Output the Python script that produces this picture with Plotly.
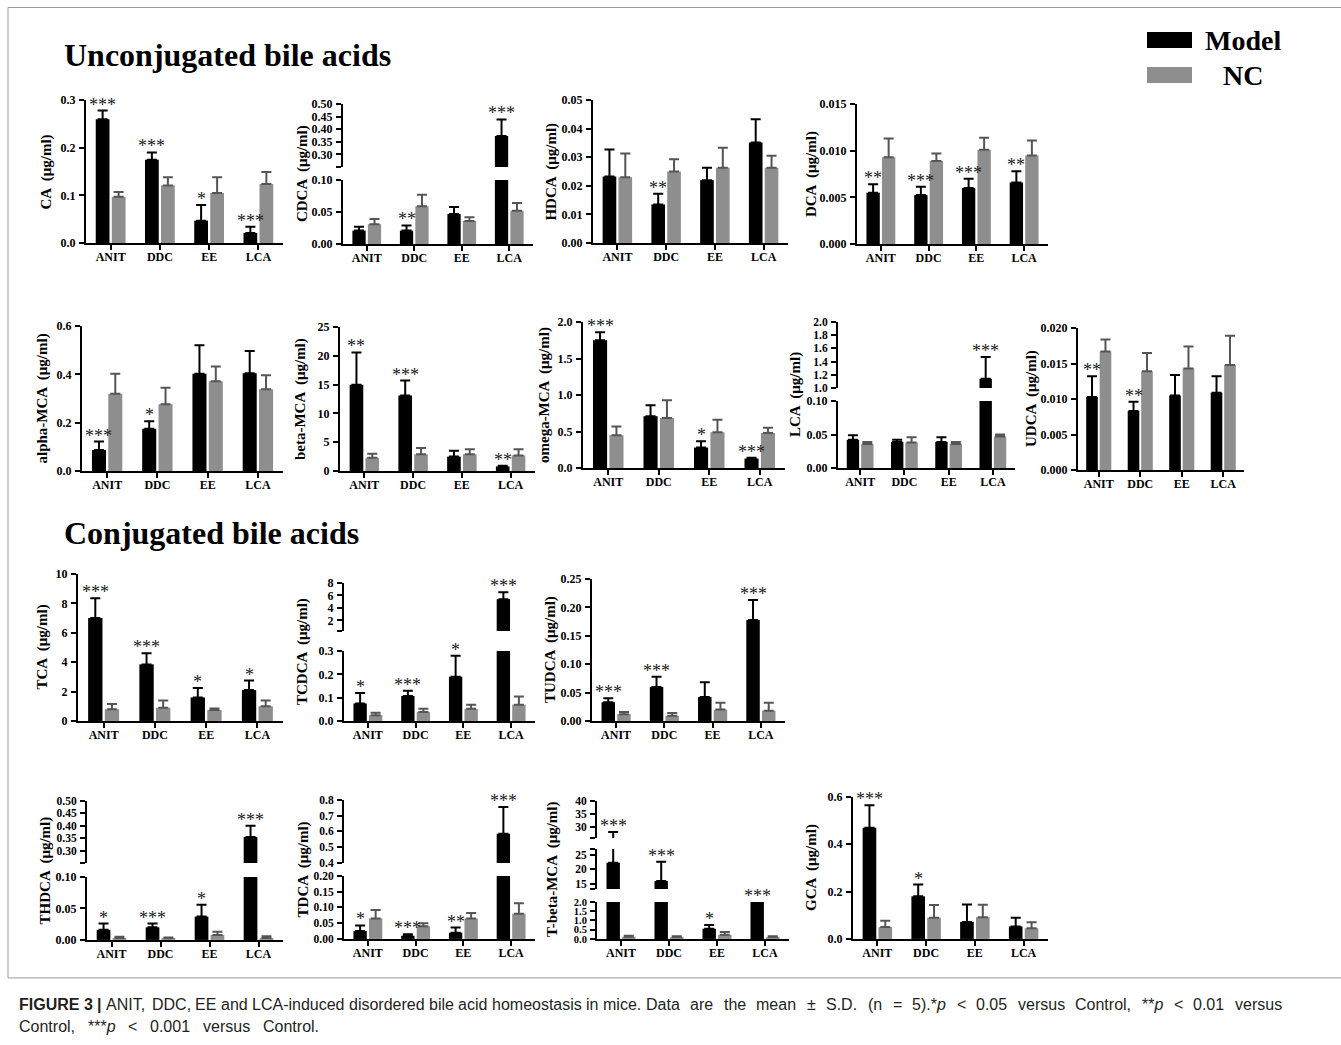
import plotly.graph_objects as go

W, H = 1341, 1045

categories = ["ANIT", "DDC", "EE", "LCA"]

# ---------------- data (mean and SD) ----------------
CA_model = [0.260, 0.175, 0.047, 0.021]
CA_model_sd = [0.018, 0.015, 0.033, 0.013]
CA_nc = [0.097, 0.121, 0.105, 0.124]
CA_nc_sd = [0.010, 0.017, 0.033, 0.025]
CA_stars = ["***", "***", "*", "***"]

CDCA_model = [0.021, 0.021, 0.047, 0.373]
CDCA_model_sd = [0.006, 0.008, 0.011, 0.066]
CDCA_nc = [0.031, 0.059, 0.036, 0.052]
CDCA_nc_sd = [0.008, 0.018, 0.006, 0.012]
CDCA_stars = ["", "**", "", "***"]

HDCA_model = [0.0233, 0.0135, 0.0220, 0.0352]
HDCA_model_sd = [0.0094, 0.0037, 0.0043, 0.0081]
HDCA_nc = [0.0230, 0.0250, 0.0263, 0.0263]
HDCA_nc_sd = [0.0083, 0.0043, 0.0070, 0.0042]
HDCA_stars = ["", "**", "", ""]

DCA_model = [0.0055, 0.00525, 0.0060, 0.0066]
DCA_model_sd = [0.0009, 0.0009, 0.0010, 0.0012]
DCA_nc = [0.0093, 0.0089, 0.0101, 0.0095]
DCA_nc_sd = [0.0020, 0.0008, 0.0013, 0.0016]
DCA_stars = ["**", "***", "***", "**"]

aMCA_model = [0.087, 0.175, 0.403, 0.405]
aMCA_model_sd = [0.035, 0.031, 0.117, 0.092]
aMCA_nc = [0.320, 0.276, 0.371, 0.338]
aMCA_nc_sd = [0.083, 0.069, 0.062, 0.058]
aMCA_stars = ["***", "*", "", ""]

bMCA_model = [15.0, 13.1, 2.5, 0.8]
bMCA_model_sd = [5.6, 2.6, 1.0, 0.1]
bMCA_nc = [2.3, 2.9, 2.9, 2.7]
bMCA_nc_sd = [0.7, 1.1, 0.9, 1.1]
bMCA_stars = ["**", "***", "", "**"]

oMCA_model = [1.75, 0.71, 0.28, 0.13]
oMCA_model_sd = [0.11, 0.15, 0.085, 0.01]
oMCA_nc = [0.45, 0.685, 0.49, 0.48]
oMCA_nc_sd = [0.12, 0.245, 0.17, 0.07]
oMCA_stars = ["***", "", "*", "***"]

LCA_model = [0.042, 0.039, 0.039, 1.14]
LCA_model_sd = [0.007, 0.003, 0.007, 0.33]
LCA_nc = [0.036, 0.038, 0.036, 0.047]
LCA_nc_sd = [0.003, 0.008, 0.003, 0.003]
LCA_stars = ["", "", "", "***"]

UDCA_model = [0.0103, 0.0083, 0.0105, 0.0109]
UDCA_model_sd = [0.0029, 0.0013, 0.0029, 0.0023]
UDCA_nc = [0.0167, 0.0139, 0.0143, 0.0148]
UDCA_nc_sd = [0.0017, 0.0026, 0.0031, 0.0041]
UDCA_stars = ["**", "**", "", ""]

TCA_model = [7.0, 3.85, 1.6, 2.1]
TCA_model_sd = [1.35, 0.75, 0.65, 0.65]
TCA_nc = [0.8, 0.9, 0.75, 1.0]
TCA_nc_sd = [0.35, 0.5, 0.1, 0.4]
TCA_stars = ["***", "***", "*", "*"]

TCDCA_model = [0.075, 0.107, 0.19, 5.4]
TCDCA_model_sd = [0.045, 0.023, 0.09, 1.1]
TCDCA_nc = [0.025, 0.038, 0.052, 0.07]
TCDCA_nc_sd = [0.010, 0.014, 0.018, 0.035]
TCDCA_stars = ["*", "***", "*", "***"]

TUDCA_model = [0.033, 0.060, 0.042, 0.178]
TUDCA_model_sd = [0.007, 0.018, 0.026, 0.035]
TUDCA_nc = [0.012, 0.009, 0.020, 0.018]
TUDCA_nc_sd = [0.004, 0.005, 0.012, 0.014]
TUDCA_stars = ["***", "***", "", "***"]

THDCA_model = [0.016, 0.020, 0.037, 0.355]
THDCA_model_sd = [0.010, 0.006, 0.019, 0.045]
THDCA_nc = [0.003, 0.003, 0.008, 0.003]
THDCA_nc_sd = [0.002, 0.001, 0.005, 0.003]
THDCA_stars = ["*", "***", "*", "***"]

TDCA_model = [0.025, 0.010, 0.020, 0.585]
TDCA_model_sd = [0.018, 0.005, 0.016, 0.170]
TDCA_nc = [0.065, 0.040, 0.065, 0.080]
TDCA_nc_sd = [0.027, 0.010, 0.017, 0.033]
TDCA_stars = ["*", "***", "**", "***"]

TbMCA_model = [22.3, 16.0, 0.55, 6.0]
TbMCA_model_sd = [5.7, 6.6, 0.20, 1.5]
TbMCA_nc = [0.12, 0.10, 0.22, 0.10]
TbMCA_nc_sd = [0.05, 0.05, 0.16, 0.05]
TbMCA_stars = ["***", "***", "*", "***"]

GCA_model = [0.470, 0.180, 0.072, 0.053]
GCA_model_sd = [0.095, 0.050, 0.073, 0.037]
GCA_nc = [0.050, 0.090, 0.092, 0.045]
GCA_nc_sd = [0.027, 0.053, 0.052, 0.025]
GCA_stars = ["***", "*", "", ""]

series_names = ["Model", "NC"]

caption_bold = "FIGURE 3 |"
caption_part1 = "ANIT, DDC, EE and LCA-induced disordered bile acid homeostasis in mice."
caption_part2 = "Data are the mean ± S.D. (n = 5).*p < 0.05 versus Control, **p < 0.01 versus"
caption_line2 = "Control, ***p < 0.001 versus Control."


# ---------------- geometry helpers ----------------
def Y(y):
    """vertical pixel position (reference picture) -> page pixel"""
    return 1.0134 * y - 7


# segment: (top_px, bottom_px, lo, hi, first_labelled_tick, dtick, decimals, tickfont size), bottom first
panels = [
    dict(t="CA", m=CA_model, ms=CA_model_sd, n=CA_nc, ns=CA_nc_sd, s=CA_stars, l=86, r=283, yt=39,
         segs=[(100, 243, 0, 0.3, 0, 0.1, 1, 12)]),
    dict(t="CDCA", m=CDCA_model, ms=CDCA_model_sd, n=CDCA_nc, ns=CDCA_nc_sd, s=CDCA_stars, l=343, r=533, yt=41,
         segs=[(180, 244, 0, 0.1, 0, 0.05, 2, 12), (104, 167, 0.25, 0.5, 0.30, 0.05, 2, 12)]),
    dict(t="HDCA", m=HDCA_model, ms=HDCA_model_sd, n=HDCA_nc, ns=HDCA_nc_sd, s=HDCA_stars, l=593, r=788, yt=41,
         segs=[(100, 243, 0, 0.05, 0, 0.01, 2, 12)]),
    dict(t="DCA", m=DCA_model, ms=DCA_model_sd, n=DCA_nc, ns=DCA_nc_sd, s=DCA_stars, l=857, r=1048, yt=46,
         segs=[(104, 244, 0, 0.015, 0, 0.005, 3, 12)]),
    dict(t="alpha-MCA", m=aMCA_model, ms=aMCA_model_sd, n=aMCA_nc, ns=aMCA_nc_sd, s=aMCA_stars, l=82, r=283, yt=39,
         segs=[(326, 471, 0, 0.6, 0, 0.2, 1, 12)]),
    dict(t="beta-MCA", m=bMCA_model, ms=bMCA_model_sd, n=bMCA_nc, ns=bMCA_nc_sd, s=bMCA_stars, l=340, r=535, yt=40,
         segs=[(327, 471, 0, 25, 0, 5, 0, 12)]),
    dict(t="omega-MCA", m=oMCA_model, ms=oMCA_model_sd, n=oMCA_nc, ns=oMCA_nc_sd, s=oMCA_stars, l=583, r=785, yt=39,
         segs=[(322, 468, 0, 2.0, 0, 0.5, 1, 12)]),
    dict(t="LCA", m=LCA_model, ms=LCA_model_sd, n=LCA_nc, ns=LCA_nc_sd, s=LCA_stars, l=838, r=1015, yt=43,
         segs=[(401, 468, 0, 0.1, 0, 0.05, 2, 12), (322, 388, 1.0, 2.0, 1.0, 0.2, 1, 11.5)]),
    dict(t="UDCA", m=UDCA_model, ms=UDCA_model_sd, n=UDCA_nc, ns=UDCA_nc_sd, s=UDCA_stars, l=1078, r=1244, yt=47,
         segs=[(328, 470, 0, 0.02, 0, 0.005, 3, 12)]),
    dict(t="TCA", m=TCA_model, ms=TCA_model_sd, n=TCA_nc, ns=TCA_nc_sd, s=TCA_stars, l=78, r=283, yt=36,
         segs=[(574, 721, 0, 10, 0, 2, 0, 12)]),
    dict(t="TCDCA", m=TCDCA_model, ms=TCDCA_model_sd, n=TCDCA_nc, ns=TCDCA_nc_sd, s=TCDCA_stars, l=344, r=535, yt=41,
         segs=[(651, 721, 0, 0.3, 0, 0.1, 1, 12), (583, 631, 0.3, 8, 2, 2, 0, 12)]),
    dict(t="TUDCA", m=TUDCA_model, ms=TUDCA_model_sd, n=TUDCA_nc, ns=TUDCA_nc_sd, s=TUDCA_stars, l=592, r=785, yt=41,
         segs=[(579, 721, 0, 0.25, 0, 0.05, 2, 12)]),
    dict(t="THDCA", m=THDCA_model, ms=THDCA_model_sd, n=THDCA_nc, ns=THDCA_nc_sd, s=THDCA_stars, l=87, r=283, yt=42,
         segs=[(877, 940, 0, 0.1, 0, 0.05, 2, 12), (801, 863, 0.25, 0.5, 0.30, 0.05, 2, 11.5)]),
    dict(t="TDCA", m=TDCA_model, ms=TDCA_model_sd, n=TDCA_nc, ns=TDCA_nc_sd, s=TDCA_stars, l=344, r=535, yt=41,
         segs=[(876, 939, 0, 0.2, 0, 0.05, 2, 11.5), (800, 863, 0.4, 0.8, 0.4, 0.1, 1, 11.5)]),
    dict(t="T-beta-MCA", m=TbMCA_model, ms=TbMCA_model_sd, n=TbMCA_nc, ns=TbMCA_nc_sd, s=TbMCA_stars, l=597, r=789, yt=44,
         segs=[(902, 939, 0, 2.0, 0, 0.5, 1, 10.5), (849, 889, 13.3, 27, 15, 5, 0, 11.5),
               (801, 838, 25.7, 40, 30, 5, 0, 11.5)]),
    dict(t="GCA", m=GCA_model, ms=GCA_model_sd, n=GCA_nc, ns=GCA_nc_sd, s=GCA_stars, l=853, r=1048, yt=41,
         segs=[(797, 939, 0, 0.6, 0, 0.2, 1, 12)]),
]

SERIF = "Liberation Serif, Times New Roman, serif"
BLACK = "#000000"
GRAY = "#8e8e8e"
GRAY_ERR = "#555555"
BAR_GAP = 0.35
GROUP_GAP = 0.14

fig = go.Figure()
layout = {}
annotations = []
shapes = []
n = 0

for p in panels:
    seg_axes = []
    for k, (tp, bp, lo, hi, t0, dt, dec, fs) in enumerate(p["segs"]):
        n += 1
        xa = "x" if n == 1 else f"x{n}"
        ya = "y" if n == 1 else f"y{n}"
        xkey = "xaxis" if n == 1 else f"xaxis{n}"
        ykey = "yaxis" if n == 1 else f"yaxis{n}"
        bottom = (k == 0)
        seg_axes.append((xa, ya, lo, hi))
        layout[xkey] = dict(
            domain=[p["l"] / W, p["r"] / W], anchor=ya, type="category",
            categoryorder="array", categoryarray=categories, range=[-0.5, 3.5],
            showline=bottom, linecolor="black", linewidth=2,
            ticks="outside" if bottom else "", ticklen=5, tickwidth=2, tickcolor="black",
            showticklabels=bottom, ticklabelstandoff=-3,
            tickfont=dict(family=SERIF, size=12, color="black", weight="bold"),
            showgrid=False, zeroline=False, fixedrange=True,
        )
        tv, tt = [], []
        v = t0
        while v <= hi + 1e-9:
            tv.append(v)
            tt.append(f"{v:.{dec}f}")
            v += dt
        if lo < t0 - 1e-9:
            tv.append(lo)
            tt.append("")
        if tv and hi > max(tv) + 1e-9:
            tv.append(hi)
            tt.append("")
        layout[ykey] = dict(
            domain=[1 - Y(bp) / H, 1 - Y(tp) / H], anchor=xa, range=[lo, hi],
            showline=True, linecolor="black", linewidth=2,
            ticks="outside", ticklen=5, tickwidth=2, tickcolor="black",
            tickmode="array", tickvals=tv, ticktext=tt, ticklabelstandoff=1,
            tickfont=dict(family=SERIF, size=fs, color="black", weight="bold"),
            showgrid=False, zeroline=False, fixedrange=True,
        )

        # in upper segments keep only bars whose bar/error reaches into the segment
        def seg_vals(vals, sds):
            if bottom:
                return list(vals), list(sds)
            keep = [(vv + ss) > lo for vv, ss in zip(vals, sds)]
            return ([vv if kk else None for vv, kk in zip(vals, keep)],
                    [ss if kk else 0 for ss, kk in zip(sds, keep)])

        my, ms = seg_vals(p["m"], p["ms"])
        ny, ns = seg_vals(p["n"], p["ns"])
        fig.add_trace(go.Bar(
            x=categories, y=my, name=series_names[0], xaxis=xa, yaxis=ya,
            marker=dict(color=BLACK, line=dict(width=0)), showlegend=False,
            error_y=dict(type="data", array=ms, arrayminus=[0] * 4, symmetric=False,
                         color=BLACK, thickness=2, width=5),
        ))
        fig.add_trace(go.Bar(
            x=categories, y=ny, name=series_names[1], xaxis=xa, yaxis=ya,
            marker=dict(color=GRAY, line=dict(width=0)), showlegend=False,
            error_y=dict(type="data", array=ns, arrayminus=[0] * 4, symmetric=False,
                         color=GRAY_ERR, thickness=2, width=5),
        ))
    # significance stars above model bars
    off = (1 - BAR_GAP) / 4
    for i, st in enumerate(p["s"]):
        if not st:
            continue
        top = p["m"][i] + p["ms"][i]
        target = None
        for j, (xa, ya, lo, hi) in enumerate(seg_axes):
            if top <= hi:
                if top >= lo or j == 0:
                    target = (xa, ya, top)
                else:
                    pxa, pya, plo, phi = seg_axes[j - 1]
                    target = (pxa, pya, phi)
                break
        if target is None:
            xa, ya, lo, hi = seg_axes[-1]
            target = (xa, ya, hi)
        xa, ya, yv = target
        annotations.append(dict(
            x=i - off, y=yv, xref=xa, yref=ya, text=st, showarrow=False,
            xanchor="center", yanchor="bottom", yshift=-6,
            font=dict(family=SERIF, size=18, color="#1a1a1a"),
        ))
    # y title
    tops = min(s[0] for s in p["segs"])
    bots = max(s[1] for s in p["segs"])
    annotations.append(dict(
        x=(p["l"] - p["yt"]) / W, y=1 - Y((tops + bots) / 2) / H, xref="paper", yref="paper",
        text=f"{p['t']}  (μg/ml)", textangle=-90, showarrow=False,
        xanchor="center", yanchor="middle",
        font=dict(family=SERIF, size=15, color="black", weight="bold"),
    ))

# section titles
annotations.append(dict(x=62 / W, y=1 - Y(55) / H, xref="paper", yref="paper", text="Unconjugated bile acids",
                        showarrow=False, xanchor="left", yanchor="middle",
                        font=dict(family=SERIF, size=32, color="black", weight="bold")))
annotations.append(dict(x=62 / W, y=1 - Y(533) / H, xref="paper", yref="paper", text="Conjugated bile acids",
                        showarrow=False, xanchor="left", yanchor="middle",
                        font=dict(family=SERIF, size=32, color="black", weight="bold")))

# legend
shapes.append(dict(type="rect", xref="paper", yref="paper", x0=1147 / W, x1=1192 / W,
                   y0=1 - Y(48) / H, y1=1 - Y(32) / H, fillcolor=BLACK, line=dict(width=0)))
shapes.append(dict(type="rect", xref="paper", yref="paper", x0=1147 / W, x1=1192 / W,
                   y0=1 - Y(83) / H, y1=1 - Y(67) / H, fillcolor=GRAY, line=dict(width=0)))
annotations.append(dict(x=1243 / W, y=1 - Y(40) / H, xref="paper", yref="paper", text=series_names[0],
                        showarrow=False, xanchor="center", yanchor="middle",
                        font=dict(family=SERIF, size=28, color="black", weight="bold")))
annotations.append(dict(x=1243 / W, y=1 - Y(75) / H, xref="paper", yref="paper", text=series_names[1],
                        showarrow=False, xanchor="center", yanchor="middle",
                        font=dict(family=SERIF, size=28, color="black", weight="bold")))

# frame
shapes.append(dict(type="rect", xref="paper", yref="paper", x0=8 / W, x1=1.01,
                   y0=1 - Y(978) / H, y1=1 - 0.5 / H,
                   line=dict(color="#9a9a9a", width=1), fillcolor="rgba(0,0,0,0)"))

# caption: laid out word by word (justified like the journal layout)
SANS = "Liberation Sans, Arial, sans-serif"
CAP_SIZE = 16
_w = {' ': 278, ',': 278, '.': 278, '-': 333, '(': 333, ')': 333, '*': 389, '<': 584, '=': 584, '|': 260,
      '±': 584, 'A': 667, 'C': 722, 'D': 722, 'E': 667, 'F': 611, 'G': 778, 'I': 278, 'L': 556, 'N': 722,
      'R': 722, 'S': 667, 'T': 611, 'U': 722, 'a': 556, 'b': 556, 'c': 500, 'd': 556, 'e': 556, 'f': 278,
      'h': 556, 'i': 222, 'l': 222, 'm': 833, 'n': 556, 'o': 556, 'p': 556, 'r': 333, 's': 500, 't': 278,
      'u': 556, 'v': 500}
_wb = {' ': 278, '|': 280, 'F': 611, 'I': 278, 'G': 778, 'U': 722, 'R': 722, 'E': 667, '3': 556}


def word_w(word, bold):
    tab = _wb if bold else _w
    return sum(tab.get(ch, 556) for ch in word) * CAP_SIZE / 1000.0


def markup(word, bold):
    t = word.replace("<", "&lt;")
    if t.endswith("*p"):
        t = t[:-1] + "<i>p</i>"
    return f"<b>{t}</b>" if bold else t


def put_word(wd, b, x, ypx):
    annotations.append(dict(x=x / W, y=1 - Y(ypx) / H, xref="paper", yref="paper", showarrow=False,
                            xanchor="left", yanchor="middle", text=markup(wd, b),
                            font=dict(family=SANS, size=CAP_SIZE, color="#231f20"), borderpad=0))


def place_natural(words, x0, ypx):
    sp = 278 * CAP_SIZE / 1000.0
    x = x0
    for wd, b in words:
        put_word(wd, b, x, ypx)
        x += word_w(wd, b) + sp
    return x


def place_justified(words, x0, x1, ypx):
    widths = [word_w(wd, b) for wd, b in words]
    gap = (x1 - x0 - sum(widths)) / (len(words) - 1)
    x = x0
    for (wd, b), wdt in zip(words, widths):
        put_word(wd, b, x, ypx)
        x += wdt + gap


xnext = place_natural([(wd, True) for wd in caption_bold.split(" ")] +
                      [(wd, False) for wd in caption_part1.split(" ")], 18, 1005)
place_justified([(wd, False) for wd in caption_part2.split(" ")], xnext, 1281, 1005)
place_justified([(wd, False) for wd in caption_line2.split(" ")], 18, 318, 1027)

fig.update_layout(
    width=W, height=H, margin=dict(l=0, r=0, t=0, b=0),
    paper_bgcolor="white", plot_bgcolor="white",
    barmode="group", bargap=BAR_GAP, bargroupgap=GROUP_GAP,
    showlegend=False, annotations=annotations, shapes=shapes, **layout,
)

fig.write_html("out.html", config={"displayModeBar": False},
               post_script="document.body.style.margin='0';document.body.style.overflow='hidden';")
